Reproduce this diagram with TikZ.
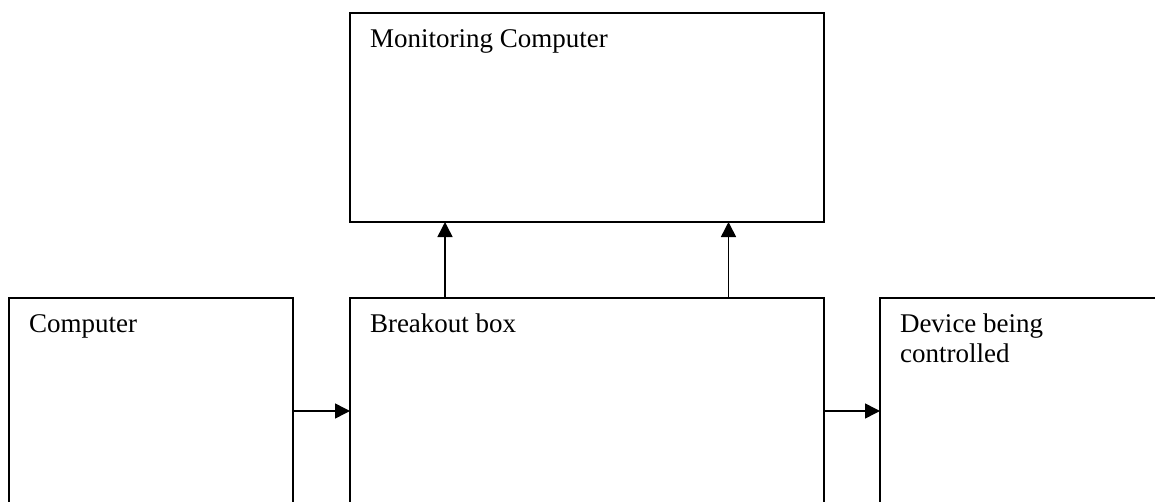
\documentclass[tikz,border=0pt]{standalone}
\usepackage{fontspec}
\setmainfont{Liberation Serif}
\usetikzlibrary{arrows.meta}

\begin{document}
\begin{tikzpicture}[x=0.5pt,y=-0.5pt]
\tikzstyle{every node}=[inner sep=0pt, outer sep=0pt]
\tikzstyle{box}=[draw, line width=0.75pt, rectangle, anchor=north west]
\tikzstyle{lbl}=[anchor=base west, align=left, font=\fontsize{13.5pt}{15pt}\selectfont]
\tikzstyle{arr}=[line width=0.75pt, -{Triangle[length=7.5pt,width=7.5pt]}]
\useasboundingbox (0,0) rectangle (1155,502);
\clip (0,0) rectangle (1155,502);
\node (mon) [box, minimum width=237pt, minimum height=104.5pt] at (350,13) {};
\node (comp) [box, minimum width=142pt, minimum height=120pt] at (9,298) {};
\node (brk) [box, minimum width=237pt, minimum height=120pt] at (350,298) {};
\node (dev) [box, minimum width=150pt, minimum height=120pt] at (880,298) {};
\node (tmon) [lbl] at ([shift={(10pt,-17.5pt)}]mon.north west) {Monitoring Computer};
\node (tcomp) [lbl] at ([shift={(10pt,-17pt)}]comp.north west) {Computer};
\node (tbrk) [lbl] at ([shift={(10pt,-17pt)}]brk.north west) {Breakout box};
\node (tdev) [lbl] at ([shift={(10pt,-32pt)}]dev.north west) {Device being\\controlled};
\draw[arr] ([yshift=-56.5pt]comp.north east) -- ([yshift=-56.5pt]brk.north west);
\draw[arr] ([yshift=-56.5pt]brk.north east) -- ([yshift=-56.5pt]dev.north west);
\draw[arr] ([xshift=47.5pt]brk.north west) -- ([xshift=47.5pt]mon.south west);
\draw[arr] ([xshift=189.25pt]brk.north west) -- ([xshift=189.25pt]mon.south west);
\end{tikzpicture}
\end{document}
